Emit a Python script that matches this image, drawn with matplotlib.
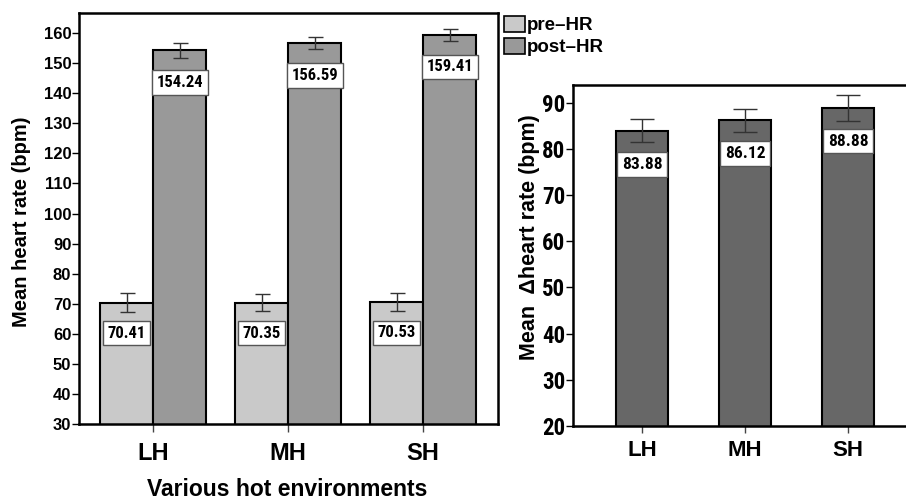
import os
import matplotlib
matplotlib.use('Agg')
from matplotlib import pyplot as plt
from matplotlib import font_manager
from matplotlib.font_manager import FontProperties
from matplotlib.patches import Patch
import numpy as np

categories = ['LH', 'MH', 'SH']
pre_hr = [70.41, 70.35, 70.53]
pre_err = [3.1, 2.9, 3.1]
post_hr = [154.24, 156.59, 159.41]
post_err = [2.5, 2.0, 2.1]
delta_hr = [83.88, 86.12, 88.88]
delta_err = [2.5, 2.45, 2.8]

plt.rcParams['font.family'] = ['Liberation Sans', 'DejaVu Sans']
plt.rcParams['font.weight'] = 'bold'

# look for some narrow / condensed bold face on the system
wanted = ['liberationsansnarrow-bold.', 'robotocondensed-bold.', 'notosans-condensedbold.',
          'opensans-condensedbold.', 'dejavusanscondensed-bold.']
found = {os.path.basename(f.fname).lower(): f.fname for f in font_manager.fontManager.ttflist}
narrow_path = None
for key in wanted:
    for name, path in found.items():
        if name.startswith(key):
            narrow_path = path
            break
    if narrow_path:
        break

def nfont(size):
    if narrow_path:
        return FontProperties(fname=narrow_path, size=size)
    return FontProperties(family='Liberation Sans', weight='bold', size=size * 0.8)

c_pre = '#c9c9c9'
c_post = '#999999'
c_delta = '#676767'

fig = plt.figure(figsize=(9.06, 5.01), dpi=100)

# ---- left panel: pre / post heart rate
ax1 = fig.add_axes([79/906, 1-424/501, 419/906, 411/501])
x = np.arange(len(categories))
w = 0.393
err_kw = dict(ecolor='#333333', elinewidth=1.0, capthick=1.0)
ax1.bar(x - w/2, pre_hr, width=w, color=c_pre, edgecolor='black', linewidth=1.5,
        yerr=pre_err, capsize=5.4, error_kw=err_kw)
ax1.bar(x + w/2, post_hr, width=w, color=c_post, edgecolor='black', linewidth=1.5,
        yerr=post_err, capsize=5.4, error_kw=err_kw)
ax1.set_xlim(-0.55, 2.555)
ax1.set_ylim(30, 166.7)
ax1.set_yticks(np.arange(30, 161, 10))
ax1.set_xticks(x)
ax1.set_xticklabels(categories, fontsize=17)
ax1.tick_params(axis='y', labelsize=12, length=5, width=1, pad=0.5)
ax1.tick_params(axis='x', length=6, width=1, pad=7, color='#444444')
for s in ax1.spines.values():
    s.set_linewidth(1.8)

box = dict(boxstyle='square,pad=0.28', fc='white', ec='#555555', lw=1)
for xi, v in zip(x - w/2, pre_hr):
    ax1.annotate(f'{v:.2f}', (xi, v), xytext=(0, -22), textcoords='offset points',
                 ha='center', va='center', fontproperties=nfont(12), bbox=box)
for xi, v in zip(x + w/2, post_hr):
    ax1.annotate(f'{v:.2f}', (xi, v), xytext=(0, -23), textcoords='offset points',
                 ha='center', va='center', fontproperties=nfont(12), bbox=box)

fig.text(22/906, 1-222/501, 'Mean heart rate (bpm)', rotation=90, ha='center', va='center',
         fontsize=14.5)
fig.text(287/906, 1-490/501, 'Various hot environments', ha='center', va='center', fontsize=16.5)

handles = [Patch(facecolor=c_pre, edgecolor='black', linewidth=1.2, label='pre\u2013HR'),
           Patch(facecolor=c_post, edgecolor='black', linewidth=1.2, label='post\u2013HR')]
fig.legend(handles=handles, loc='upper left', bbox_to_anchor=(504/906, 1-16/501), frameon=False,
           prop=dict(size=13.5, weight='bold'), handlelength=1.1, handleheight=0.9,
           handletextpad=0.1, labelspacing=0.2, borderpad=0, borderaxespad=0)

# ---- right panel: delta heart rate
ax2 = fig.add_axes([573/906, 1-426/501, 1-573/906, 341/501])
wd = 0.505
ax2.bar(x, delta_hr, width=wd, color=c_delta, edgecolor='black', linewidth=1.5,
        yerr=delta_err, capsize=8.4, error_kw=err_kw)
ax2.set_xlim(-0.67, 2.563)
ax2.set_ylim(20, 93.8)
ax2.set_yticks(np.arange(20, 91, 10))
ax2.set_yticklabels([str(t) for t in range(20, 91, 10)], fontproperties=nfont(16.5))
ax2.set_xticks(x)
ax2.set_xticklabels(categories, fontsize=16)
ax2.tick_params(axis='y', length=5, width=1, pad=0.5)
ax2.tick_params(axis='x', length=5, width=1, pad=5, color='#444444')
for s in ax2.spines.values():
    s.set_linewidth(1.8)
ax2.spines['right'].set_visible(False)

for xi, v in zip(x, delta_hr):
    ax2.annotate(f'{v:.2f}', (xi, v), xytext=(0, -24), textcoords='offset points',
                 ha='center', va='center', fontproperties=nfont(12.5), bbox=box)

fig.text(529/906, 1-237/501, 'Mean  \u0394heart rate (bpm)', rotation=90, ha='center',
         va='center', fontsize=15.5)

plt.savefig('out.png', dpi=100)
